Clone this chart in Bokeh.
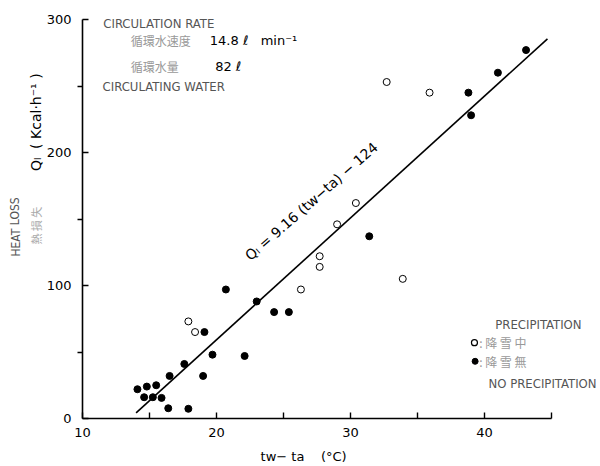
from bokeh.plotting import figure
from bokeh.models import Range1d, FixedTicker, Label
from bokeh.embed import file_html
from bokeh.resources import INLINE

# Heat loss vs. water–air temperature difference
# open circles: during precipitation; filled circles: no precipitation
precip_dt = [17.9, 18.4, 26.3, 27.7, 27.7, 29.0, 30.4, 32.7, 33.9, 35.9]
precip_ql = [73, 65, 97, 114, 122, 146, 162, 253, 105, 245]

noprecip_dt = [14.1, 14.8, 15.5, 14.6, 15.25, 15.9, 16.4, 17.9, 16.5, 17.6,
               19.0, 19.1, 19.7, 20.7, 22.1, 23.0, 24.3, 25.4, 31.4, 38.8,
               39.0, 41.0, 43.1]
noprecip_ql = [22, 24, 25, 16, 16, 15.5, 7.7, 7.3, 32, 41,
               32, 65, 48, 97, 47, 88, 80, 80, 137, 245,
               228, 260, 277]

# regression QL = 9.16 (tw - ta) - 124
slope, intercept = 9.16, -124
fit_dt = [14.0, 44.7]
fit_ql = [slope * t + intercept for t in fit_dt]

x_ticks = [10, 20, 30, 40]
x_minor = [15, 25, 35, 45]
y_ticks = [0, 100, 200, 300]
y_minor = [50, 150, 250]

W, H = 600, 466
# axis box inside the canvas: x 10..45 over 82..551 px, y 0..300 over 418..19 px
X0, X1, PX0, PX1 = 10, 45, 82, 551
Y0, Y1, PY0, PY1 = 0, 300, 418, 19
sx = (PX1 - PX0) / (X1 - X0)
sy = (PY0 - PY1) / (Y1 - Y0)
x_range = Range1d(X0 - PX0 / sx, X0 + (W - PX0) / sx)
y_range = Range1d(Y0 - (H - PY0) / sy, Y0 + PY0 / sy)

p = figure(width=W, height=H, output_backend="svg", toolbar_location=None,
           x_range=x_range, y_range=y_range,
           min_border=0, min_border_left=0, min_border_right=0,
           min_border_top=0, min_border_bottom=0)
p.outline_line_color = None
p.grid.visible = False
p.background_fill_color = "white"
p.border_fill_color = "white"

num_font = "DejaVu Sans"
thin_font = "'Liberation Sans Narrow', 'DejaVu Sans Condensed', sans-serif"
NB = "\u00a0"

for ax in (p.xaxis[0], p.yaxis[0]):
    ax.axis_line_width = 1.6
    ax.axis_line_color = "black"
    ax.major_tick_line_color = "black"
    ax.minor_tick_line_color = "black"
    ax.major_tick_line_width = 1.4
    ax.minor_tick_line_width = 1.4
    ax.major_label_text_font = num_font
    ax.major_label_text_font_size = "13px"
    ax.major_label_text_color = "black"

p.xaxis.fixed_location = Y0
p.xaxis.bounds = (X0, X1)
p.xaxis.ticker = FixedTicker(ticks=x_ticks, minor_ticks=x_minor)
p.xaxis.major_tick_in = 6
p.xaxis.major_tick_out = 0
p.xaxis.minor_tick_in = 6
p.xaxis.minor_tick_out = 0
p.xaxis.major_label_standoff = 9

p.yaxis.fixed_location = X0
p.yaxis.bounds = (Y0, Y1)
p.yaxis.ticker = FixedTicker(ticks=y_ticks, minor_ticks=y_minor)
p.yaxis.major_tick_in = 6
p.yaxis.major_tick_out = 0
p.yaxis.minor_tick_in = 0
p.yaxis.minor_tick_out = 5
p.yaxis.major_label_standoff = 6

# fitted line
p.line(fit_dt, fit_ql, line_color="black", line_width=1.6)

# observations
p.scatter(noprecip_dt, noprecip_ql, marker="circle", size=7,
          fill_color="black", line_color="black")
p.scatter(precip_dt, precip_ql, marker="circle", size=7,
          fill_color="white", line_color="black", line_width=1)

def put(text, x, y, size="13px", font=thin_font, color="#555",
        angle=0.0, align="left", baseline="middle", style="normal"):
    p.add_layout(Label(x=x, y=y, text=text, text_font=font,
                       text_font_size=size, text_color=color, angle=angle,
                       text_align=align, text_baseline=baseline,
                       text_font_style=style))

# regression equation along the line
put("Qₗ = 9.16 (tw−ta) − 124", 22.3, 121, size="14px", font=num_font,
    color="black", angle=0.72, baseline="alphabetic")

# circulation notes
put("CIRCULATION RATE", 11.55, 297)
put("循環水速度", 13.6, 284, size="12px", font="Noto Sans CJK JP", color="#999")
put(f"14.8 ℓ{NB}{NB}{NB}min⁻¹", 19.5, 284, size="13px", font=num_font,
    color="black")
put("循環水量", 13.6, 265, size="12px", font="Noto Sans CJK JP", color="#999")
put("82 ℓ", 19.9, 265, size="13px", font=num_font, color="black")
put("CIRCULATING WATER", 11.5, 250)

# legend
put("PRECIPITATION", 40.8, 71)
p.scatter([39.25], [57], marker="circle", size=6, fill_color="white",
          line_color="black", line_width=1.2)
put(": 降 雪 中", 39.6, 57, size="12px", font="Noto Sans CJK JP", color="#999")
p.scatter([39.3], [43], marker="circle", size=6, fill_color="black",
          line_color="black")
put(": 降 雪 無", 39.6, 43, size="12px", font="Noto Sans CJK JP", color="#999")
put("NO PRECIPITATION", 40.3, 26)

# axis titles
put(f"tw−{NB}ta{NB}{NB}{NB}{NB}(°C)", 26.5, -28.8, size="13px", font=num_font,
    color="black", align="center")
put(f"Qₗ{NB}{NB}({NB}Kcal·h⁻¹{NB})", 6.5, 186, size="14px", font=num_font,
    color="black", angle=1.5708, align="left")
put("HEAT LOSS", 5.0, 144, size="12px", angle=1.5708, align="center")
put("熱 損 失", 6.5, 145, size="11px", font="Noto Sans CJK JP", color="#aaa",
    angle=1.5708, align="center")

open("out.html", "w").write(file_html(p, INLINE))
